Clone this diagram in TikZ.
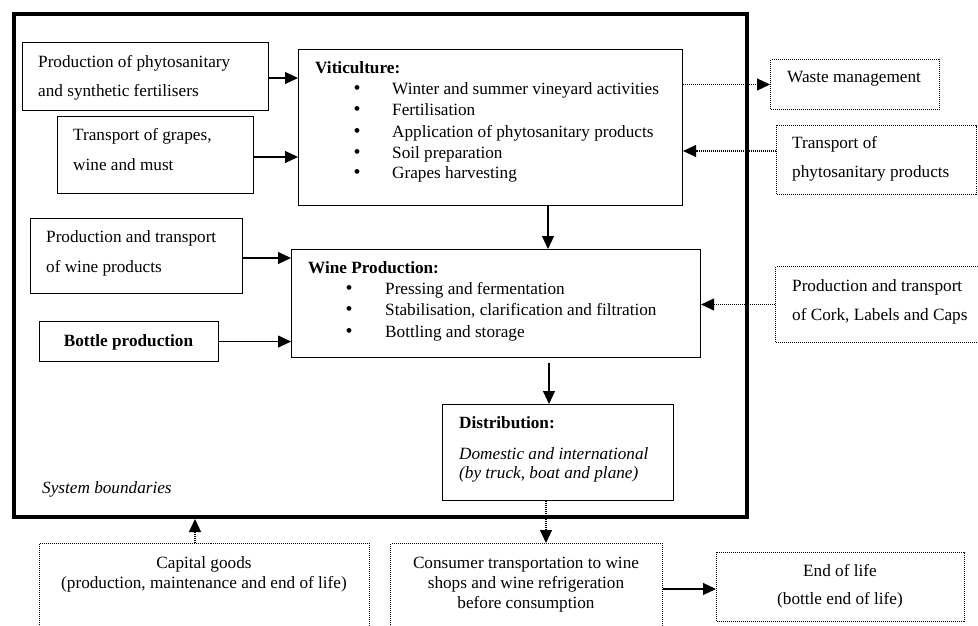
\documentclass[tikz,border=0pt]{standalone}
\usepackage{fontspec}
\setmainfont{Liberation Serif}
\usetikzlibrary{arrows.meta}
\begin{document}
\begin{tikzpicture}[x=1pt,y=-1pt,
  box/.style={draw, line width=1.1pt, inner sep=0pt, anchor=north west},
  dbox/.style={box, line width=1pt, dash pattern=on 1pt off 1pt},
  txt/.style={inner sep=0pt, anchor=base west, font=\fontsize{17.2}{20}\selectfont},
  ctxt/.style={txt, anchor=base},
  arr/.style={line width=1.1pt, -{Triangle[length=13pt,width=12pt]}},
  darr/.style={arr, dash pattern=on 1pt off 1pt}]
\useasboundingbox (0,0) rectangle (978,626);
\clip (0,0) rectangle (978,626);
% system boundary
\node[draw, line width=4pt, inner sep=0pt, anchor=north west, minimum width=733pt, minimum height=503pt] (sb) at (12,12) {};
% boxes
\node[box, minimum width=246pt, minimum height=68pt] (pf) at (22,42) {};
\node[box, minimum width=196pt, minimum height=77pt] (tg) at (57,116) {};
\node[box, minimum width=384pt, minimum height=156pt] (vit) at (298,49) {};
\node[dbox, minimum width=169pt, minimum height=50pt] (wm) at (770,59) {};
\node[dbox, minimum width=200pt, minimum height=69pt] (tp) at (776,125) {};
\node[box, minimum width=212pt, minimum height=75pt] (pw) at (30,218) {};
\node[box, minimum width=409pt, minimum height=108pt] (wp) at (291,249) {};
\node[box, minimum width=179pt, minimum height=40pt] (bp) at (39,321) {};
\node[dbox, minimum width=220pt, minimum height=76pt] (ck) at (775,266) {};
\node[box, minimum width=231pt, minimum height=96pt] (dist) at (442,404) {};
\node[dbox, minimum width=330pt, minimum height=110pt] (cg) at (39,543) {};
\node[dbox, minimum width=272pt, minimum height=110pt] (cons) at (390,543) {};
\node[dbox, minimum width=248pt, minimum height=69pt] (eol) at (716,552) {};
% texts
\node[txt] (pf1) at (38,68) {Production of phytosanitary};
\node[txt] (pf2) at (38,96) {and synthetic fertilisers};
\node[txt] (tg1) at (73,140) {Transport of grapes,};
\node[txt] (tg2) at (73,170) {wine and must};
\node[txt, font=\fontsize{17.2}{20}\selectfont\bfseries] (vt) at (315,74) {Viticulture:};
\foreach \i/\yy/\t in {1/95/Winter and summer vineyard activities, 2/115/Fertilisation, 3/137/Application of phytosanitary products, 4/158/Soil preparation, 5/178/Grapes harvesting}{
  \node[ctxt, font=\fontsize{20}{20}\selectfont] (vb\i) at (357,\yy) {\textbullet};
  \node[txt] (vi\i) at (392,\yy) {\t};
}
\node[txt] (wm1) at (787,83) {Waste management};
\node[txt] (tp1) at (792,148) {Transport of};
\node[txt] (tp2) at (792,177) {phytosanitary products};
\node[txt] (pw1) at (46,242) {Production and transport};
\node[txt] (pw2) at (46,272) {of wine products};
\node[txt, font=\fontsize{17.2}{20}\selectfont\bfseries] (wt) at (308,273) {Wine Production:};
\foreach \i/\yy/\t in {1/294/Pressing and fermentation, 2/315/{Stabilisation, clarification and filtration}, 3/337/Bottling and storage}{
  \node[ctxt, font=\fontsize{20}{20}\selectfont] (wb\i) at (349,\yy) {\textbullet};
  \node[txt] (wi\i) at (385,\yy) {\t};
}
\node[ctxt, font=\fontsize{17.2}{20}\selectfont\bfseries] (bp1) at (128.5,346) {Bottle production};
\node[txt] (ck1) at (792,291) {Production and transport};
\node[txt] (ck2) at (792,320) {of Cork, Labels and Caps};
\node[txt, font=\fontsize{17.2}{20}\selectfont\bfseries] (dt) at (459,428) {Distribution:};
\node[txt, font=\fontsize{17.2}{20}\selectfont\itshape] (d1) at (459,459) {Domestic and international};
\node[txt, font=\fontsize{17.2}{20}\selectfont\itshape] (d2) at (459,478) {(by truck, boat and plane)};
\node[txt, font=\fontsize{17.2}{20}\selectfont\itshape] (sbt) at (42,493) {System boundaries};
\node[ctxt] (cg1) at (204,568) {Capital goods};
\node[ctxt] (cg2) at (204,588) {(production, maintenance and end of life)};
\node[ctxt] (cn1) at (526,568) {Consumer transportation to wine};
\node[ctxt] (cn2) at (526,588) {shops and wine refrigeration};
\node[ctxt] (cn3) at (526,608) {before consumption};
\node[ctxt] (eo1) at (840,576) {End of life};
\node[ctxt] (eo2) at (840,604) {(bottle end of life)};
% helper coordinates
\coordinate (c1) at (548,0);
\coordinate (c2) at (549,0);
\coordinate (c3) at (546,0);
\coordinate (c4) at (195,0);
\coordinate (c5) at (0,589);
\coordinate (c6) at (0,151);
\coordinate (c7) at (0,78);
\coordinate (c8) at (0,157);
\coordinate (c9) at (0,258);
% connectors
\draw[arr] (pf.east |- c7) -- (vit.west |- c7);
\draw[arr] (tg.east |- c8) -- (vit.west |- c8);
\draw[darr] (vit.east |- wm.west) -- (wm.west);
\draw[darr] (tp.west |- c6) -- (vit.east |- c6);
\draw[arr] (vit.south -| c1) -- (wp.north -| c1);
\draw[arr] (pw.east |- c9) -- (wp.west |- c9);
\draw[arr] (bp.east) -- (wp.west |- bp.east);
\draw[darr] (ck.west) -- (wp.east |- ck.west);
\draw[arr] ([yshift=-5pt]wp.south -| c2) -- (dist.north -| c2);
\draw[darr] (dist.south -| c3) -- (cons.north -| c3);
\draw[darr] (cg.north -| c4) -- (sb.south -| c4);
\draw[arr] (cons.east |- c5) -- (eol.west |- c5);
\end{tikzpicture}
\end{document}
